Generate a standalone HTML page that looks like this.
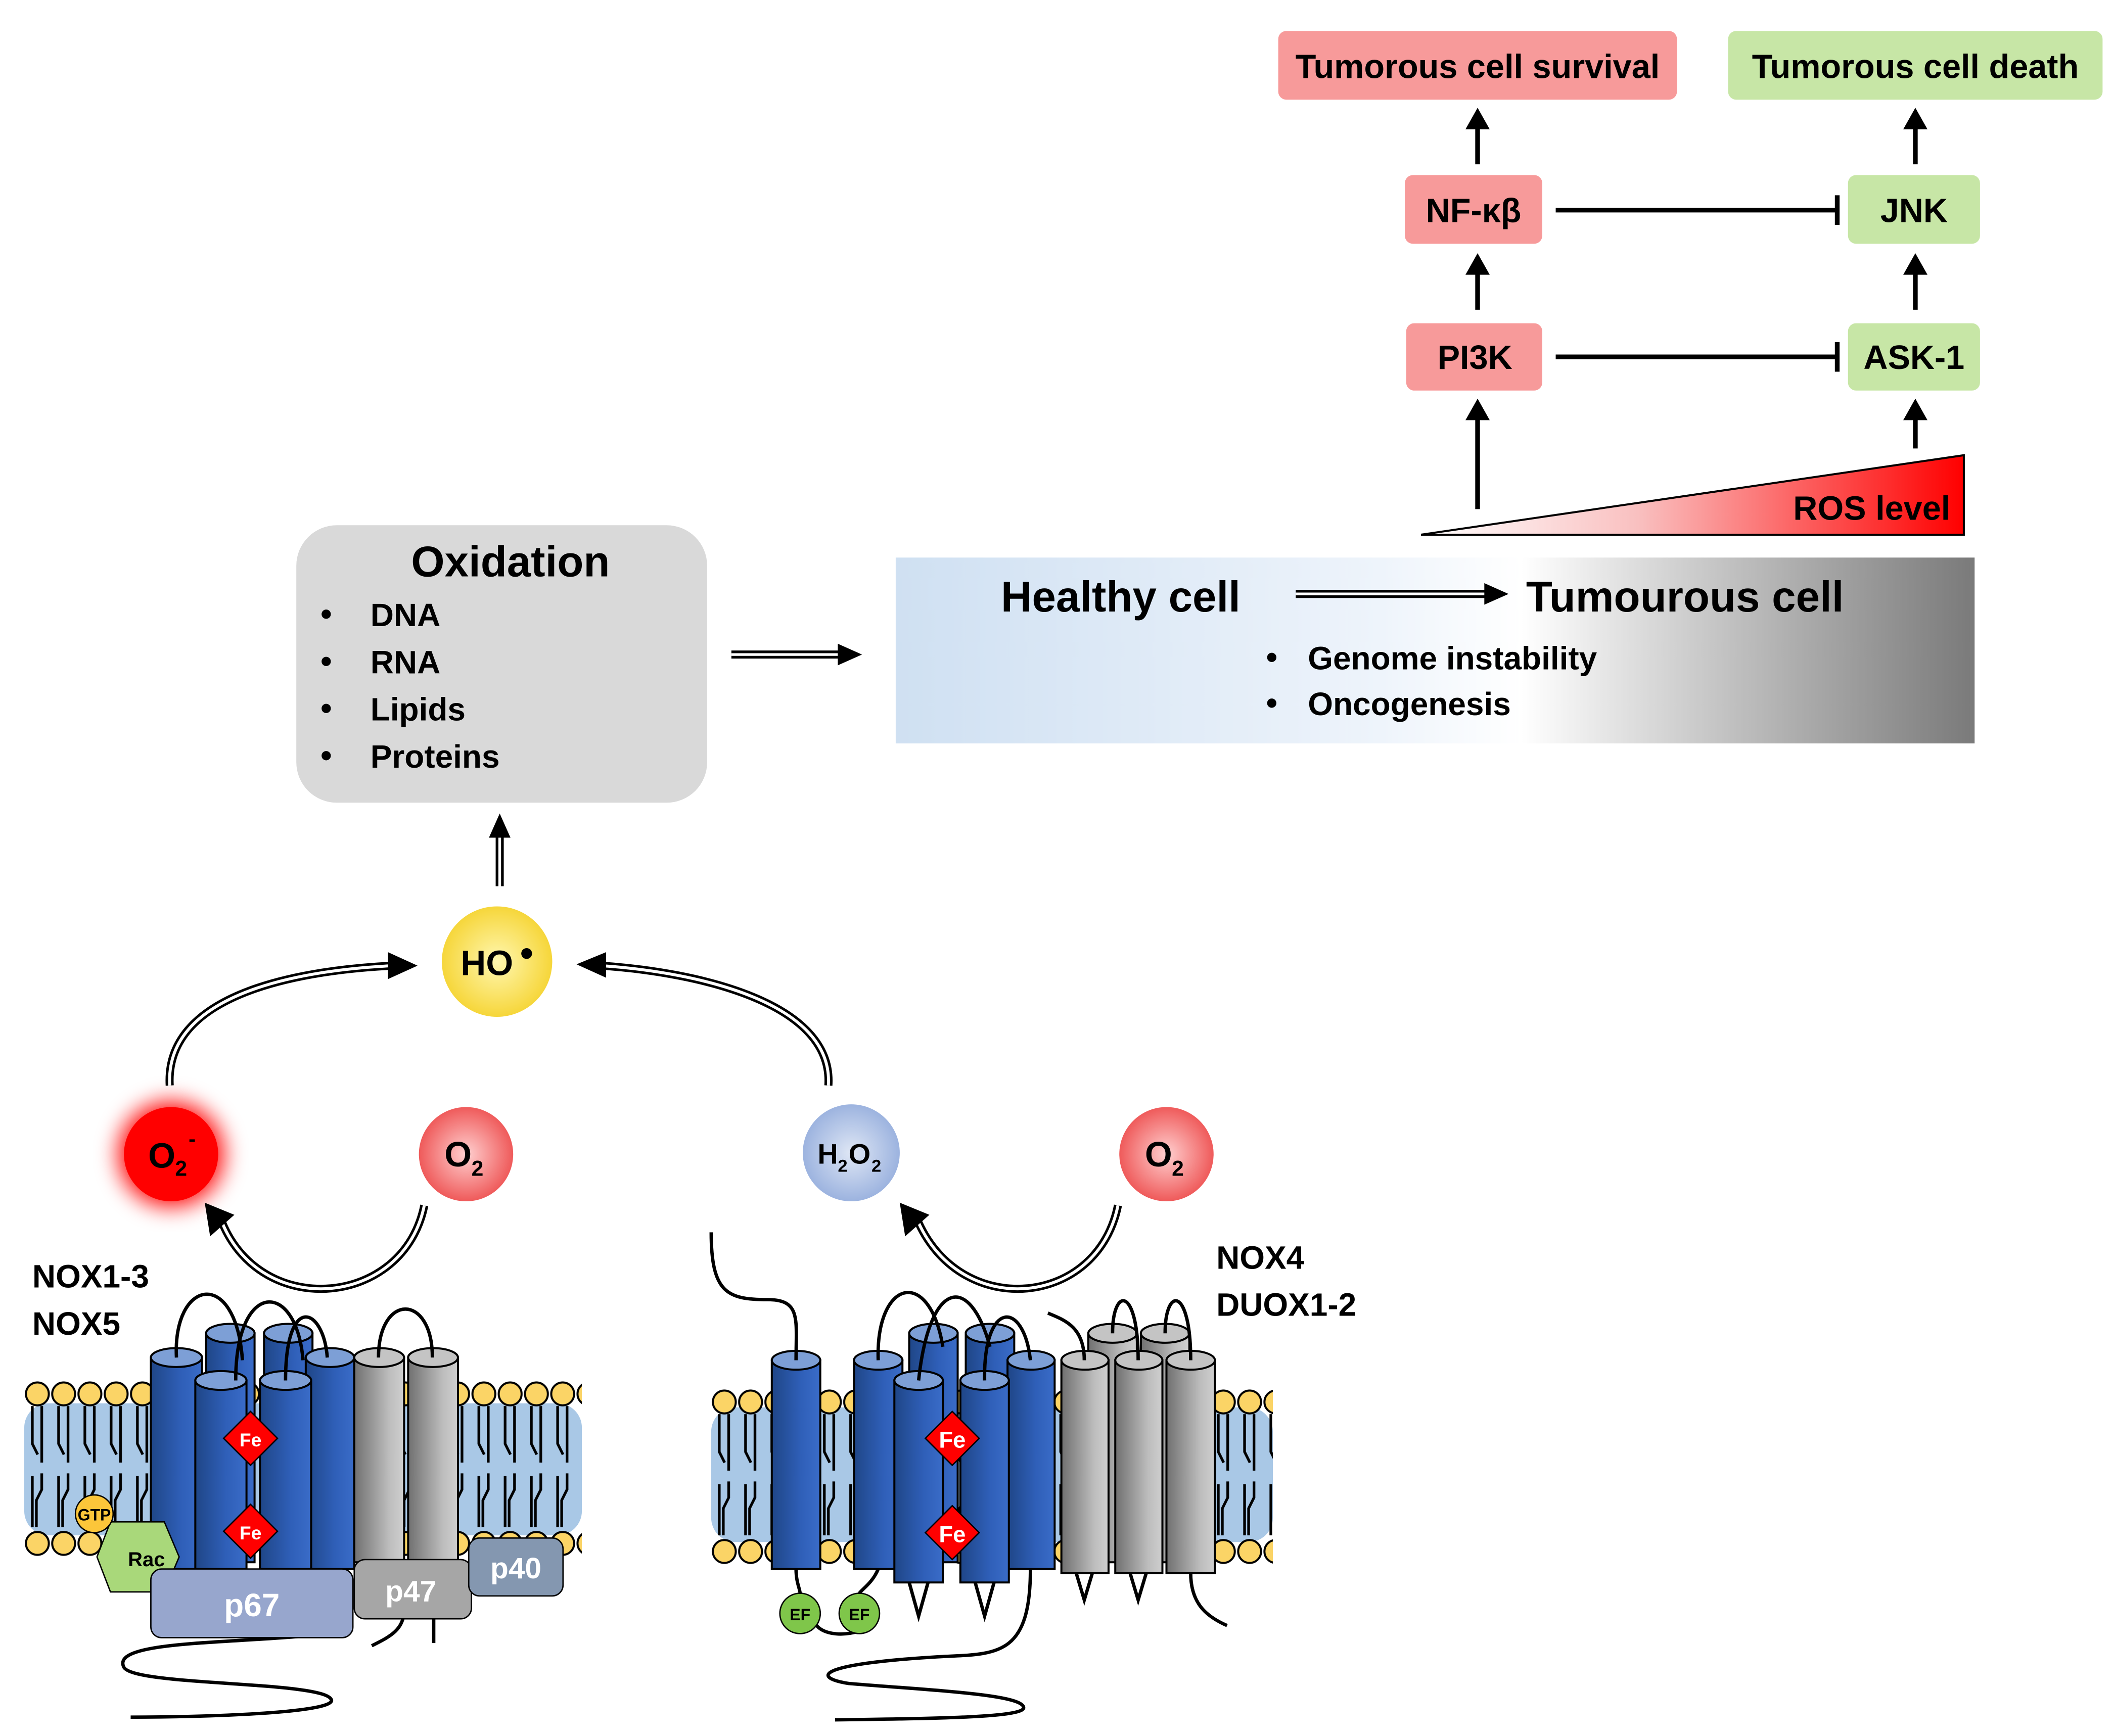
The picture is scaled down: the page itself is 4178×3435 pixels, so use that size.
<!DOCTYPE html>
<html><head><meta charset="utf-8"><style>
html,body{margin:0;padding:0;background:#fff;}
svg{display:block;}
text{font-family:"Liberation Sans",sans-serif;font-weight:bold;}
</style></head><body>
<svg width="4178" height="3435" viewBox="0 0 1568 1289" preserveAspectRatio="none" xmlns="http://www.w3.org/2000/svg">
<defs>
<linearGradient id="band" x1="0" x2="1" y1="0" y2="0">
<stop offset="0" stop-color="#cfe0f2"/><stop offset="0.45" stop-color="#eef4fb"/><stop offset="0.58" stop-color="#ffffff"/><stop offset="0.85" stop-color="#a8a8a8"/><stop offset="1" stop-color="#7a7a7a"/></linearGradient>
<linearGradient id="ros" x1="0" x2="1" y1="0" y2="0"><stop offset="0" stop-color="#fff"/><stop offset="0.4" stop-color="#f9c0c0"/><stop offset="1" stop-color="#ff0000"/></linearGradient>
<linearGradient id="blue" x1="0" x2="1"><stop offset="0" stop-color="#1f4687"/><stop offset="0.6" stop-color="#2f5fb8"/><stop offset="1" stop-color="#3a6cc8"/></linearGradient>
<linearGradient id="grey" x1="0" x2="1"><stop offset="0" stop-color="#707070"/><stop offset="0.7" stop-color="#bdbdbd"/><stop offset="1" stop-color="#cfcfcf"/></linearGradient>
<radialGradient id="yel"><stop offset="0" stop-color="#fff7b0"/><stop offset="1" stop-color="#f6d63a"/></radialGradient>
<radialGradient id="red1"><stop offset="0" stop-color="#ffd0d0"/><stop offset="1" stop-color="#ef5a5a"/></radialGradient>
<radialGradient id="red2"><stop offset="0" stop-color="#ff2020"/><stop offset="0.6" stop-color="#ff0000"/><stop offset="1" stop-color="#ff0000" stop-opacity="0"/></radialGradient>
<radialGradient id="blu1"><stop offset="0" stop-color="#dfe7f5"/><stop offset="1" stop-color="#9cb3df"/></radialGradient>
<pattern id="lip" x="18" y="1024" width="19.5" height="134" patternUnits="userSpaceOnUse">
<g stroke="#000" stroke-width="2" fill="none">
<path d="M6,20 V48 L10,56 M13,20 V62 M6,72 V110 M13,70 V82 L9,90 V110"/>
</g>
<circle cx="9.75" cy="11" r="8.5" fill="#fbd466" stroke="#000" stroke-width="1.5"/>
<circle cx="9.75" cy="122" r="8.5" fill="#fbd466" stroke="#000" stroke-width="1.5"/>
</pattern>
<pattern id="lip2" x="528" y="1030" width="19.5" height="134" patternUnits="userSpaceOnUse">
<g stroke="#000" stroke-width="2" fill="none">
<path d="M6,20 V48 L10,56 M13,20 V62 M6,72 V110 M13,70 V82 L9,90 V110"/>
</g>
<circle cx="9.75" cy="11" r="8.5" fill="#fbd466" stroke="#000" stroke-width="1.5"/>
<circle cx="9.75" cy="122" r="8.5" fill="#fbd466" stroke="#000" stroke-width="1.5"/>
</pattern>
<filter id="glow"><feGaussianBlur stdDeviation="6"/></filter>
</defs>

<!-- top pathway -->
<rect x="949" y="23" width="296" height="51" rx="6" fill="#f79a9a"/>
<text x="1097" y="58" font-size="25" text-anchor="middle">Tumorous cell survival</text>
<rect x="1283" y="23" width="278" height="51" rx="6" fill="#c7e6a6"/>
<text x="1422" y="58" font-size="25" text-anchor="middle">Tumorous cell death</text>
<rect x="1043" y="130" width="102" height="51" rx="6" fill="#f79a9a"/>
<text x="1094" y="165" font-size="25" text-anchor="middle">NF-κβ</text>
<rect x="1372" y="130" width="98" height="51" rx="6" fill="#c7e6a6"/>
<text x="1421" y="165" font-size="25" text-anchor="middle">JNK</text>
<rect x="1044" y="240" width="101" height="50" rx="6" fill="#f79a9a"/>
<text x="1095" y="274" font-size="25" text-anchor="middle">PI3K</text>
<rect x="1372" y="240" width="98" height="50" rx="6" fill="#c7e6a6"/>
<text x="1421" y="274" font-size="25" text-anchor="middle">ASK-1</text>
<g stroke="#000" stroke-width="3.5">
<line x1="1097" y1="122" x2="1097" y2="94"/><line x1="1422" y1="122" x2="1422" y2="94"/>
<line x1="1097" y1="230" x2="1097" y2="202"/><line x1="1422" y1="230" x2="1422" y2="202"/>
<line x1="1097" y1="378" x2="1097" y2="310"/><line x1="1422" y1="333" x2="1422" y2="310"/>
<line x1="1155" y1="156" x2="1364" y2="156"/><line x1="1364" y1="145" x2="1364" y2="167"/>
<line x1="1155" y1="265" x2="1364" y2="265"/><line x1="1364" y1="254" x2="1364" y2="276"/>
</g>
<g fill="#000">
<path d="M1088,96 L1097,80 L1106,96Z"/><path d="M1413,96 L1422,80 L1431,96Z"/>
<path d="M1088,204 L1097,188 L1106,204Z"/><path d="M1413,204 L1422,188 L1431,204Z"/>
<path d="M1088,312 L1097,296 L1106,312Z"/><path d="M1413,312 L1422,296 L1431,312Z"/>
</g>
<path d="M1055,397 L1458,338 L1458,397Z" fill="url(#ros)" stroke="#000" stroke-width="1.5"/>
<text x="1448" y="386" font-size="25" text-anchor="end">ROS level</text>

<rect x="665" y="414" width="801" height="138" fill="url(#band)"/>
<text x="832" y="454" font-size="32" text-anchor="middle">Healthy cell</text>
<text x="1133" y="454" font-size="32">Tumourous cell</text>
<path d="M962,441 H1105" stroke="#000" stroke-width="6"/><path d="M962,441 H1105" stroke="#fff" stroke-width="2"/>
<path d="M1102,433 L1120,441 L1102,449Z"/>
<text x="940" y="496" font-size="24">•</text><text x="971" y="497" font-size="24">Genome instability</text>
<text x="940" y="530" font-size="24">•</text><text x="971" y="531" font-size="24">Oncogenesis</text>

<rect x="220" y="390" width="305" height="206" rx="30" fill="#d9d9d9"/>
<text x="379" y="428" font-size="32" text-anchor="middle">Oxidation</text>
<g font-size="24"><text x="238" y="464">•</text><text x="275" y="465">DNA</text>
<text x="238" y="499">•</text><text x="275" y="500">RNA</text>
<text x="238" y="534">•</text><text x="275" y="535">Lipids</text>
<text x="238" y="569">•</text><text x="275" y="570">Proteins</text></g>
<path d="M543,486 H625" stroke="#000" stroke-width="6"/><path d="M543,486 H625" stroke="#fff" stroke-width="2"/>
<path d="M622,478 L640,486 L622,494Z"/>
<path d="M371,658 V620" stroke="#000" stroke-width="6"/><path d="M371,658 V620" stroke="#fff" stroke-width="2"/>
<path d="M363,622 L371,604 L379,622Z"/>

<!-- molecules -->
<circle cx="369" cy="714" r="41" fill="url(#yel)"/>
<text x="342" y="724" font-size="26">HO</text><circle cx="391" cy="708" r="4"/>
<circle cx="127" cy="857" r="48" fill="url(#red2)" filter="url(#glow)"/>
<circle cx="127" cy="857" r="35" fill="#ff0000"/>
<text x="110" y="867" font-size="26">O</text><text x="130" y="873" font-size="16">2</text><text x="140" y="851" font-size="16">-</text>
<circle cx="346" cy="857" r="35" fill="url(#red1)"/>
<text x="330" y="866" font-size="26">O</text><text x="350" y="873" font-size="16">2</text>
<circle cx="866" cy="857" r="35" fill="url(#red1)"/>
<text x="850" y="866" font-size="26">O</text><text x="870" y="873" font-size="16">2</text>
<circle cx="632" cy="856" r="36" fill="url(#blu1)"/>
<text x="607" y="864" font-size="21">H</text><text x="622" y="870" font-size="13">2</text><text x="630" y="864" font-size="21">O</text><text x="647" y="870" font-size="13">2</text>

<!-- curved arrows -->
<g fill="none">
<path d="M126,806 C122,735 230,720 292,717" stroke="#000" stroke-width="6"/>
<path d="M126,806 C122,735 230,720 292,717" stroke="#fff" stroke-width="2.2"/>
<path d="M615,806 C619,745 520,722 446,717" stroke="#000" stroke-width="6"/>
<path d="M615,806 C619,745 520,722 446,717" stroke="#fff" stroke-width="2.2"/>
<path d="M315,895 C300,970 195,980 165,908" stroke="#000" stroke-width="6"/>
<path d="M315,895 C300,970 195,980 165,908" stroke="#fff" stroke-width="2.2"/>
<path d="M830,895 C815,970 715,980 682,908" stroke="#000" stroke-width="6"/>
<path d="M830,895 C815,970 715,980 682,908" stroke="#fff" stroke-width="2.2"/>
</g>
<path d="M288,707 L310,717 L288,727Z"/><path d="M450,707 L428,716 L450,726Z"/>
<path d="M152,893 L156,918 L174,902Z"/><path d="M668,893 L672,918 L690,902Z"/>

<g font-size="24"><text x="24" y="956">NOX1-3</text><text x="24" y="991">NOX5</text>
<text x="903" y="942">NOX4</text><text x="903" y="977">DUOX1-2</text></g>

<!-- left membrane -->
<rect x="18" y="1042" width="414" height="98" rx="18" fill="#a9c8e6"/>
<rect x="18" y="1024" width="414" height="134" fill="url(#lip)"/>
<g stroke="#000" stroke-width="1.5">
<rect x="153" y="990" width="36" height="170" fill="url(#blue)"/><ellipse cx="171" cy="990" rx="18" ry="7" fill="#7d9fd6"/>
<rect x="196" y="990" width="36" height="170" fill="url(#blue)"/><ellipse cx="214" cy="990" rx="18" ry="7" fill="#7d9fd6"/>
<rect x="112" y="1008" width="38" height="157" fill="url(#blue)"/><ellipse cx="131" cy="1008" rx="19" ry="7" fill="#7d9fd6"/>
<rect x="227" y="1008" width="36" height="157" fill="url(#blue)"/><ellipse cx="245" cy="1008" rx="18" ry="7" fill="#7d9fd6"/>
<rect x="145" y="1025" width="38" height="140" fill="url(#blue)"/><ellipse cx="164" cy="1025" rx="19" ry="7" fill="#7d9fd6"/>
<rect x="193" y="1025" width="38" height="140" fill="url(#blue)"/><ellipse cx="212" cy="1025" rx="19" ry="7" fill="#7d9fd6"/>
<rect x="263" y="1008" width="37" height="152" fill="url(#grey)"/><ellipse cx="281.5" cy="1008" rx="18.5" ry="7" fill="#c4c4c4"/>
<rect x="303" y="1008" width="37" height="152" fill="url(#grey)"/><ellipse cx="321.5" cy="1008" rx="18.5" ry="7" fill="#c4c4c4"/>
</g>
<g fill="none" stroke="#000" stroke-width="2.5">
<path d="M131,1008 C128,950 175,940 180,1010"/>
<path d="M175,1025 C175,950 220,950 225,1010"/>
<path d="M212,1025 C212,960 240,970 243,1008"/>
<path d="M281,1008 C281,960 321,960 321,1008"/>
<path d="M262,1210 C200,1222 80,1215 92,1238 C100,1252 240,1248 246,1262 C250,1272 150,1275 97,1275"/>
<path d="M322,1195 V1220"/><path d="M300,1195 C300,1210 290,1215 276,1222"/>
</g>
<g>
<path d="M186,1048 L206,1068 L186,1088 L166,1068Z" fill="#f00" stroke="#000"/>
<text x="186" y="1074" font-size="14" fill="#fff" text-anchor="middle">Fe</text>
<path d="M186,1117 L206,1137 L186,1157 L166,1137Z" fill="#f00" stroke="#000"/>
<text x="186" y="1143" font-size="14" fill="#fff" text-anchor="middle">Fe</text>
</g>
<path d="M82,1130 L122,1130 L133,1156 L122,1182 L82,1182 L72,1156Z" fill="#a9d87a" stroke="#000" stroke-width="1"/>
<text x="95" y="1163" font-size="15">Rac</text>
<circle cx="70" cy="1124" r="14" fill="#fcc63a" stroke="#000"/>
<text x="70" y="1129" font-size="12" text-anchor="middle">GTP</text>
<rect x="112" y="1165" width="150" height="51" rx="8" fill="#97a6cd" stroke="#000"/>
<text x="187" y="1200" font-size="24" fill="#fff" text-anchor="middle">p67</text>
<rect x="263" y="1158" width="87" height="44" rx="8" fill="#a6a6a6" stroke="#000"/>
<text x="305" y="1189" font-size="22" fill="#fff" text-anchor="middle">p47</text>
<rect x="348" y="1142" width="70" height="43" rx="8" fill="#8497b0" stroke="#000"/>
<text x="383" y="1172" font-size="22" fill="#fff" text-anchor="middle">p40</text>

<!-- right membrane -->
<rect x="528" y="1045" width="417" height="100" rx="18" fill="#a9c8e6"/>
<rect x="528" y="1030" width="417" height="134" fill="url(#lip2)"/>
<g stroke="#000" stroke-width="1.5">
<rect x="675" y="990" width="36" height="170" fill="url(#blue)"/><ellipse cx="693" cy="990" rx="18" ry="7" fill="#7d9fd6"/>
<rect x="717" y="990" width="36" height="170" fill="url(#blue)"/><ellipse cx="735" cy="990" rx="18" ry="7" fill="#7d9fd6"/>
<rect x="808" y="990" width="36" height="170" fill="url(#grey)"/><ellipse cx="826" cy="990" rx="18" ry="7" fill="#c4c4c4"/>
<rect x="847" y="990" width="36" height="170" fill="url(#grey)"/><ellipse cx="865" cy="990" rx="18" ry="7" fill="#c4c4c4"/>
<rect x="573" y="1010" width="36" height="155" fill="url(#blue)"/><ellipse cx="591" cy="1010" rx="18" ry="7" fill="#7d9fd6"/>
<rect x="634" y="1010" width="36" height="155" fill="url(#blue)"/><ellipse cx="652" cy="1010" rx="18" ry="7" fill="#7d9fd6"/>
<rect x="748" y="1010" width="35" height="155" fill="url(#blue)"/><ellipse cx="765.5" cy="1010" rx="17.5" ry="7" fill="#7d9fd6"/>
<rect x="664" y="1025" width="36" height="150" fill="url(#blue)"/><ellipse cx="682" cy="1025" rx="18" ry="7" fill="#7d9fd6"/>
<rect x="713" y="1025" width="36" height="150" fill="url(#blue)"/><ellipse cx="731" cy="1025" rx="18" ry="7" fill="#7d9fd6"/>
<rect x="788" y="1010" width="35" height="158" fill="url(#grey)"/><ellipse cx="805.5" cy="1010" rx="17.5" ry="7" fill="#c4c4c4"/>
<rect x="828" y="1010" width="35" height="158" fill="url(#grey)"/><ellipse cx="845.5" cy="1010" rx="17.5" ry="7" fill="#c4c4c4"/>
<rect x="866" y="1010" width="36" height="158" fill="url(#grey)"/><ellipse cx="884" cy="1010" rx="18" ry="7" fill="#c4c4c4"/>
</g>
<g fill="none" stroke="#000" stroke-width="2.5">
<path d="M528,915 C528,960 540,965 570,965 C595,965 591,980 591,1010"/>
<path d="M652,1010 C650,950 690,940 700,1000"/>
<path d="M682,1025 C690,950 720,945 735,1000"/>
<path d="M731,1025 C730,965 760,965 765,1010"/>
<path d="M778,975 C790,980 805,985 805,1010"/>
<path d="M826,990 C826,955 845,955 845,1010"/>
<path d="M865,990 C865,955 884,955 884,1010"/>
<path d="M675,1175 L682,1200 L689,1175 M724,1175 L731,1200 L738,1175 M799,1168 L805,1188 L811,1168 M839,1168 L845,1188 L851,1168"/>
<path d="M884,1168 C884,1190 895,1200 911,1207"/>
<path d="M591,1165 C591,1175 594,1180 594,1183 M652,1165 C648,1175 640,1180 638,1183"/>
<path d="M605,1205 C610,1215 630,1215 640,1210"/>
<path d="M765,1165 C765,1230 740,1228 700,1230 C610,1235 600,1245 630,1250 C690,1255 760,1258 760,1268 C760,1275 700,1276 620,1277"/>
</g>
<path d="M707,1048 L727,1068 L707,1088 L687,1068Z" fill="#f00" stroke="#000"/>
<text x="707" y="1075" font-size="17" fill="#fff" text-anchor="middle">Fe</text>
<path d="M707,1118 L727,1138 L707,1158 L687,1138Z" fill="#f00" stroke="#000"/>
<text x="707" y="1145" font-size="17" fill="#fff" text-anchor="middle">Fe</text>
<circle cx="594" cy="1198" r="15" fill="#7fc64a" stroke="#000"/>
<text x="594" y="1203" font-size="12" text-anchor="middle">EF</text>
<circle cx="638" cy="1198" r="15" fill="#7fc64a" stroke="#000"/>
<text x="638" y="1203" font-size="12" text-anchor="middle">EF</text>
</svg>
</body></html>
